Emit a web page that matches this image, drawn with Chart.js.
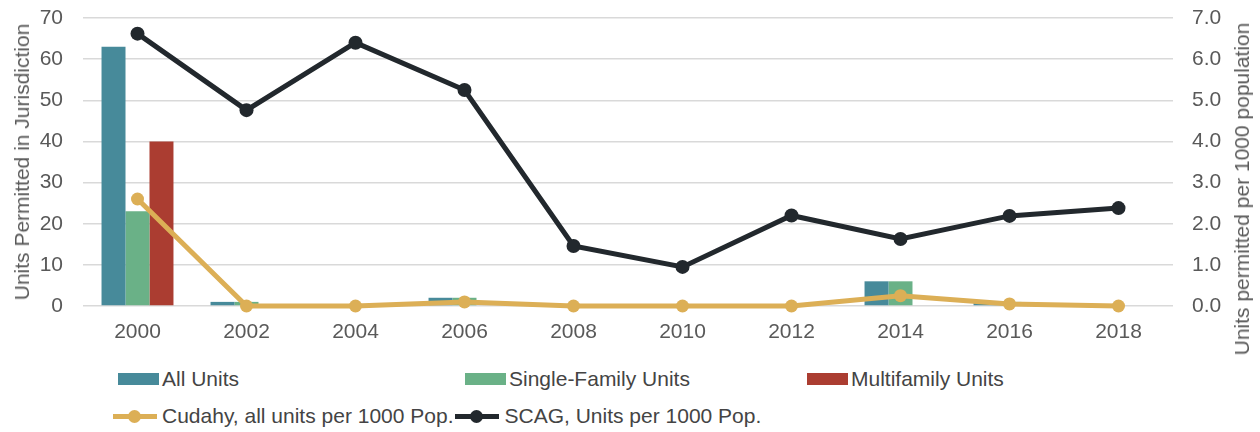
<!DOCTYPE html>
<html>
<head>
<meta charset="utf-8">
<script src="https://cdn.jsdelivr.net/npm/chart.js@4"></script>
<style>
  html, body { margin: 0; padding: 0; background: #fff; }
  #wrap { position: relative; width: 1260px; height: 432px; overflow: hidden; }
  #box { position: absolute; left: 0; top: 0; width: 1260px; height: 348px; }
  .ytitle { position: absolute; white-space: nowrap; font-family: "Liberation Sans", Arial, sans-serif;
    font-size: 21px; color: #595959; transform: translate(-50%, -50%) rotate(-90deg); }
  .legend { position: absolute; font-family: "Liberation Sans", Arial, sans-serif; font-size: 21px; color: #444; }
  .item { position: absolute; white-space: nowrap; display: flex; align-items: center; }
  .sw { display: inline-block; width: 41px; height: 12px; margin-right: 3px; }
  .ln { position: relative; display: inline-block; width: 44px; height: 5px; margin-right: 5px; }
  .ln i { position: absolute; left: 15px; top: -4px; width: 13px; height: 13px; border-radius: 50%; }
</style>
</head>
<body>
<div id="wrap">
  <div id="box"><canvas id="chart"></canvas></div>
  <div class="ytitle" style="left:22px; top:162px;">Units Permitted in Jurisdiction</div>
  <div class="ytitle" style="left:1242px; top:189px;">Units permitted per 1000 population</div>
  <div class="legend" id="legend"></div>
</div>
<script>
const years = ["2000", "2002", "2004", "2006", "2008", "2010", "2012", "2014", "2016", "2018"];
const allUnits = [63, 1, 0, 2, 0, 0, 0, 6, 1, 0];
const singleFamily = [23, 1, 0, 2, 0, 0, 0, 6, 1, 0];
const multifamily = [40, 0, 0, 0, 0, 0, 0, 0, 0, 0];
const cudahyPer1000 = [2.6, 0, 0, 0.1, 0, 0, 0, 0.25, 0.05, 0];
const scagPer1000 = [6.62, 4.76, 6.4, 5.25, 1.46, 0.95, 2.2, 1.63, 2.19, 2.38];

const leftTicks = [0, 10, 20, 30, 40, 50, 60, 70];

const teal = "#478a9a";
const green = "#6ab187";
const red = "#ab3d31";
const gold = "#dcaf56";
const dark = "#22282d";

const tickFont = { family: "'Liberation Sans', Arial, sans-serif", size: 21 };

// fix axis sizes so the plot area lands where the reference has it
function fixSize(w, h) {
  return (s) => {
    if (w !== null) s.width = w;
    if (h !== null) s.height = h;
    s.paddingTop = 0; s.paddingBottom = 0; s.paddingLeft = 0; s.paddingRight = 0;
  };
}

let ctx = document.getElementById("chart");
let chart = new Chart(ctx, {
  type: "bar",
  data: {
    labels: years,
    datasets: [
      { type: "line", label: "Cudahy, all units per 1000 Pop.", data: cudahyPer1000, yAxisID: "y2",
        borderColor: gold, backgroundColor: gold, borderWidth: 5, pointRadius: 6.5, pointBackgroundColor: gold,
        pointBorderWidth: 0, order: 1 },
      { type: "line", label: "SCAG, Units per 1000 Pop.", data: scagPer1000, yAxisID: "y2",
        borderColor: dark, backgroundColor: dark, borderWidth: 5, pointRadius: 7, pointBackgroundColor: dark,
        pointBorderWidth: 0, order: 0 },
      { label: "All Units", data: allUnits, backgroundColor: teal, yAxisID: "y", order: 3 },
      { label: "Single-Family Units", data: singleFamily, backgroundColor: green, yAxisID: "y", order: 3 },
      { label: "Multifamily Units", data: multifamily, backgroundColor: red, yAxisID: "y", order: 3 }
    ]
  },
  options: {
    responsive: true,
    maintainAspectRatio: false,
    animation: false,
    layout: { autoPadding: false, padding: { top: 18, left: 40, right: 38, bottom: 4 } },
    datasets: {
      bar: { barPercentage: 1, categoryPercentage: 0.66, borderWidth: 0 },
      line: { tension: 0, clip: false }
    },
    plugins: {
      legend: { display: false },
      tooltip: { enabled: false }
    },
    scales: {
      x: {
        afterFit: fixSize(null, 38),
        grid: { display: false, drawTicks: false },
        border: { display: false },
        ticks: { color: "#595959", font: tickFont, padding: 14 }
      },
      y: {
        position: "left",
        min: 0, max: 70,
        afterFit: fixSize(43, null),
        afterBuildTicks: (axis) => { axis.ticks = leftTicks.map(v => ({ value: v })); },
        grid: { color: "#d9d9d9", lineWidth: 1.5, drawTicks: false },
        border: { display: false },
        ticks: { color: "#595959", font: tickFont, padding: 20 }
      },
      y2: {
        position: "right",
        min: 0, max: 7,
        afterFit: fixSize(49, null),
        grid: { display: false, drawTicks: false },
        border: { display: false },
        ticks: { color: "#595959", font: tickFont, padding: 19, stepSize: 1,
          callback: (v) => Number(v).toFixed(1) }
      }
    }
  }
});

// custom legend in two rows, like the reference
const legend = document.getElementById("legend");
const barItems = [
  { label: "All Units", color: teal, x: 118 },
  { label: "Single-Family Units", color: green, x: 465 },
  { label: "Multifamily Units", color: red, x: 807 }
];
barItems.forEach(it => {
  const d = document.createElement("div");
  d.className = "item";
  d.style.left = it.x + "px";
  d.style.top = "367px";
  d.innerHTML = '<span class="sw" style="background:' + it.color + '"></span>' + it.label;
  legend.appendChild(d);
});
const row2 = document.createElement("div");
row2.className = "item";
row2.style.left = "113px";
row2.style.top = "404px";
[{ label: "Cudahy, all units per 1000 Pop.", color: gold }, { label: "SCAG, Units per 1000 Pop.", color: dark }]
  .forEach(it => {
    const s = document.createElement("span");
    s.className = "ln";
    s.style.background = it.color;
    s.innerHTML = '<i style="background:' + it.color + '"></i>';
    row2.appendChild(s);
    const t = document.createElement("span");
    t.textContent = it.label;
    t.style.marginRight = "2px";
    row2.appendChild(t);
  });
legend.appendChild(row2);
</script>
</body>
</html>
